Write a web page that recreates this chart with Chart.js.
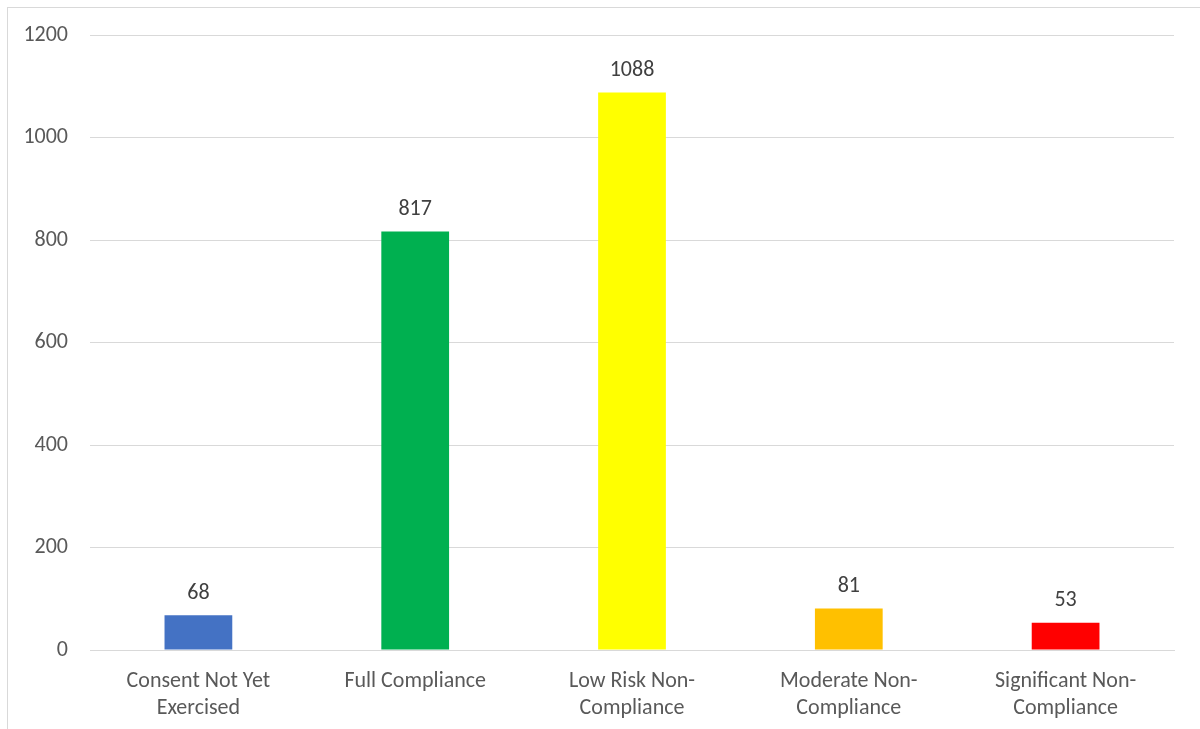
<!DOCTYPE html>
<html>
<head>
<meta charset="utf-8">
<script src="https://cdn.jsdelivr.net/npm/chart.js@4/dist/chart.umd.min.js"></script>
<style>
  html, body { margin: 0; padding: 0; background: #fff; overflow: hidden; }
  #frame { position: absolute; left: 7px; top: 7px; width: 1300px; height: 800px;
           border-left: 1px solid #d9d9d9; border-top: 1px solid #d9d9d9; }
  #wrap { position: absolute; left: 0; top: 0; width: 1200px; height: 729px; }
</style>
</head>
<body>
<div id="frame"></div>
<div id="wrap"><canvas id="c" width="1200" height="729"></canvas></div>
<script>
// Compliance outcome counts
const categories = [
  ["Consent Not Yet", "Exercised"],
  ["Full Compliance"],
  ["Low Risk Non-", "Compliance"],
  ["Moderate Non-", "Compliance"],
  ["Significant Non-", "Compliance"]
];
const counts = [68, 817, 1088, 81, 53];
const barColors = ["#4472C4", "#00B050", "#FFFF00", "#FFC000", "#FF0000"];
const yTicks = [0, 200, 400, 600, 800, 1000, 1200];

const FONT = "Carlito, Calibri, 'Liberation Sans', 'Open Sans', sans-serif";
const TEXT = "#595959";

// Value labels above each bar
const valueLabels = {
  id: "valueLabels",
  afterDatasetsDraw(chart) {
    const ctx = chart.ctx;
    const meta = chart.getDatasetMeta(0);
    ctx.save();
    ctx.font = "22px " + FONT;
    ctx.fillStyle = "#404040";
    ctx.textAlign = "center";
    ctx.textBaseline = "middle";
    meta.data.forEach((bar, i) => {
      ctx.fillText(String(counts[i]), bar.x, bar.y - 22);
    });
    ctx.restore();
  }
};

new Chart(document.getElementById("c"), {
  type: "bar",
  data: {
    labels: categories,
    datasets: [{
      data: counts,
      backgroundColor: barColors,
      borderWidth: 0,
      barPercentage: 0.625,
      categoryPercentage: 0.5
    }]
  },
  options: {
    responsive: false,
    animation: false,
    devicePixelRatio: 1,
    layout: { padding: { top: 34, right: 26, left: 0, bottom: 0 } },
    plugins: { legend: { display: false }, tooltip: { enabled: false } },
    scales: {
      x: {
        grid: { display: false, drawTicks: false },
        border: { color: "#d9d9d9", width: 1 },
        ticks: {
          color: TEXT,
          font: { size: 22, family: FONT, lineHeight: 1.23 },
          padding: 18,
          maxRotation: 0,
          autoSkip: false
        },
        afterFit(scale) { scale.height = 79; }
      },
      y: {
        min: 0,
        max: 1200,
        afterBuildTicks(scale) { scale.ticks = yTicks.map(v => ({ value: v })); },
        grid: { color: "#d9d9d9", lineWidth: 1, drawTicks: false },
        border: { display: false },
        ticks: {
          color: TEXT,
          font: { size: 22, family: FONT },
          padding: 22,
          callback: (v) => String(v)
        },
        afterFit(scale) { scale.width = 90; }
      }
    }
  },
  plugins: [valueLabels]
});
</script>
</body>
</html>
